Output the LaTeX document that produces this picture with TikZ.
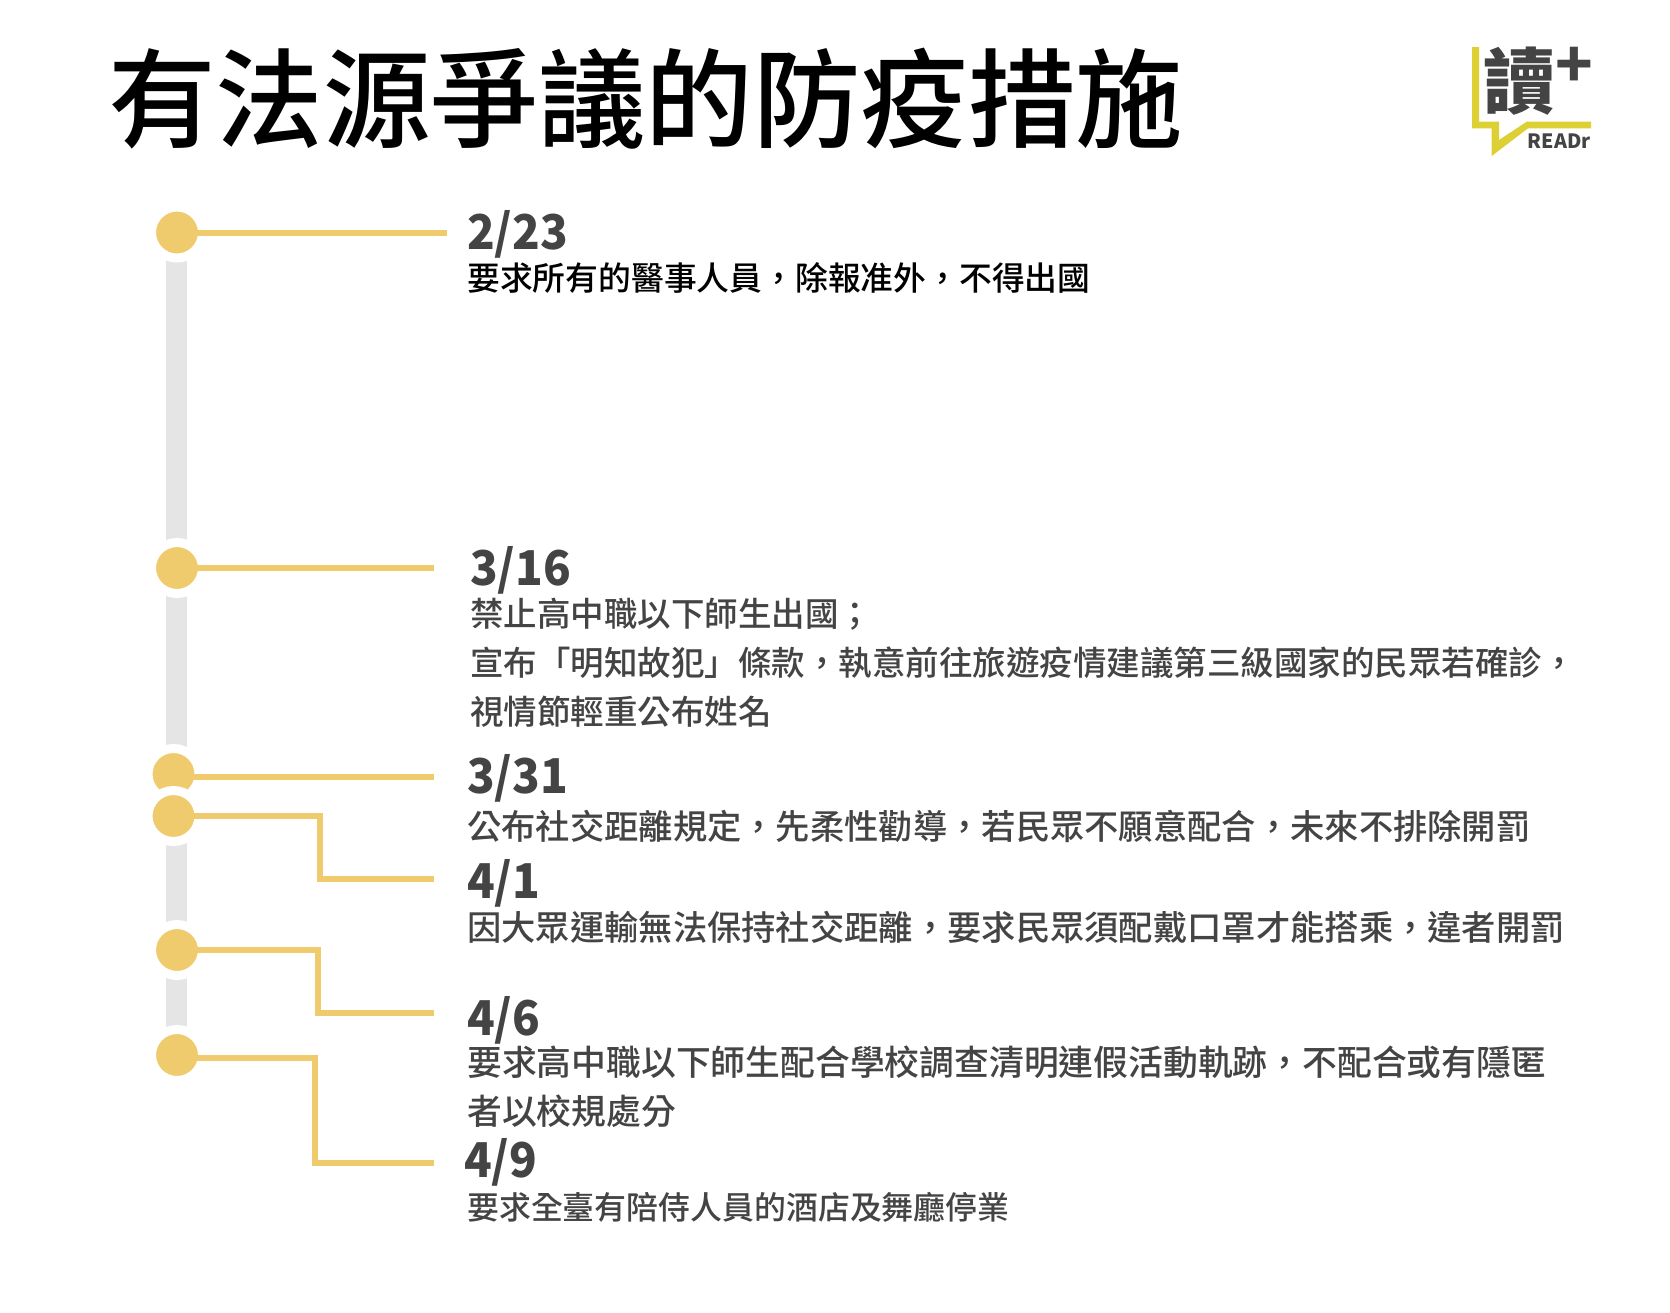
\documentclass[tikz,border=0pt]{standalone}
\usepackage{fontspec}
\setmainfont{Noto Sans CJK TC}
\newfontfamily\mediumfont{Noto Sans CJK TC Medium}
\newfontfamily\datefont{Noto Sans CJK TC}[FakeStretch=0.95]
\usepackage{tikz}
\usetikzlibrary{calc}
\definecolor{dotyellow}{HTML}{F0CB6E}
\definecolor{bargrey}{HTML}{E5E5E5}
\definecolor{logoyellow}{HTML}{DCD035}
\definecolor{textgrey}{HTML}{444444}
\tikzset{
   event dot/.style={circle,fill=dotyellow,draw=white,line width=9pt,minimum size=51pt,inner sep=0pt},
   date label/.style={anchor=base west,inner sep=0pt,font=\datefont\bfseries\fontsize{48pt}{48pt}\selectfont,text=textgrey},
   body label/.style={anchor=base west,inner sep=0pt,font=\mediumfont\fontsize{#1}{#1}\selectfont,text=textgrey},
   leader/.style={draw=dotyellow,line width=6pt}
}
\begin{document}
\begin{tikzpicture}[x=1pt,y=-1pt]
\useasboundingbox (0,0) rectangle (1670,1312);
\fill[white] (0,0) rectangle (1670,1312);
\draw[bargrey,line width=21pt] (176.5,232) -- (176.5,1055);
%
\node[event dot] (d1) at (177,232.5) {};
\node[event dot] (d2) at (177,568) {};
\node[event dot] (d3) at (173.5,774) {};
\node[event dot] (d4) at (173.5,816) {};
\node[event dot] (d5) at (177,950) {};
\node[event dot] (d6) at (177,1055) {};
%
\node[anchor=base west,inner sep=0pt,font=\mediumfont\fontsize{107.5pt}{108pt}\selectfont] (title) at (108,139) {有法源爭議的防疫措施};
%
\coordinate (e1) at (447,232.5);
\coordinate (e2) at (434,568);
\coordinate (e3) at (434,777);
\coordinate (e4) at (434,879);
\coordinate (e5) at (434,1013);
\coordinate (e6) at (434,1163);
\coordinate (s6) at (177,1058);
\coordinate (c4) at (320,879);
\coordinate (c5) at (317.5,1013);
\coordinate (c6) at (314.5,1163);
\path[leader]
  (d1.center) -- (e1)
  (d2.center) -- (e2)
  (d3.center |- e3) -- (e3)
  (d4.center) -| (c4) -- (e4)
  (d5.center) -| (c5) -- (e5)
  (s6) -| (c6) -- (e6)
  ;
%
\node[date label] (t1) at (467,249) {2/23};
\node[body label=32.8pt,text=black] (b1) at (467,290) {要求所有的醫事人員，除報准外，不得出國};
\node[date label] (t2) at (470,585) {3/16};
\node[body label=33.5pt] (b2) at (470,626) {禁止高中職以下師生出國；};
\node[body label=33.5pt] (b2b) at (470,675) {宣布「明知故犯」條款，執意前往旅遊疫情建議第三級國家的民眾若確診，};
\node[body label=33.5pt] (b2c) at (470,724) {視情節輕重公布姓名};
\node[date label] (t3) at (467,793) {3/31};
\node[body label=34.3pt] (b3) at (467,839) {公布社交距離規定，先柔性勸導，若民眾不願意配合，未來不排除開罰};
\node[date label] (t4) at (467,898) {4/1};
\node[body label=34.3pt] (b4) at (467,940) {因大眾運輸無法保持社交距離，要求民眾須配戴口罩才能搭乘，違者開罰};
\node[date label] (t5) at (467,1035) {4/6};
\node[body label=34.8pt] (b5) at (467,1075) {要求高中職以下師生配合學校調查清明連假活動軌跡，不配合或有隱匿};
\node[body label=34.8pt] (b5b) at (467,1124) {者以校規處分};
\node[date label] (t6) at (464,1177) {4/9};
\node[body label=31.9pt] (b6) at (467,1219) {要求全臺有陪侍人員的酒店及舞廳停業};
%
\fill[logoyellow] (1472,47) -- (1479,47) -- (1479,121.7) -- (1499,121.7) -- (1499,140) -- (1526.7,121.7) -- (1591,121.7) -- (1591,128.3) -- (1528,128.3) -- (1491.7,156) -- (1491.7,128.3) -- (1472,128.3) -- cycle;
\node[anchor=base west,inner sep=0pt,font=\bfseries\fontsize{72pt}{72pt}\selectfont,text=textgrey] (logo) at (1483,108) {讀};
\node[inner sep=0pt,font=\bfseries\fontsize{62pt}{62pt}\selectfont,text=textgrey] (plus) at (1574,67) {+};
\node[anchor=base east,inner sep=0pt,font=\bfseries\fontsize{19.7pt}{20pt}\selectfont,text=textgrey] (readr) at (1591,148) {READr};
\end{tikzpicture}
\end{document}
